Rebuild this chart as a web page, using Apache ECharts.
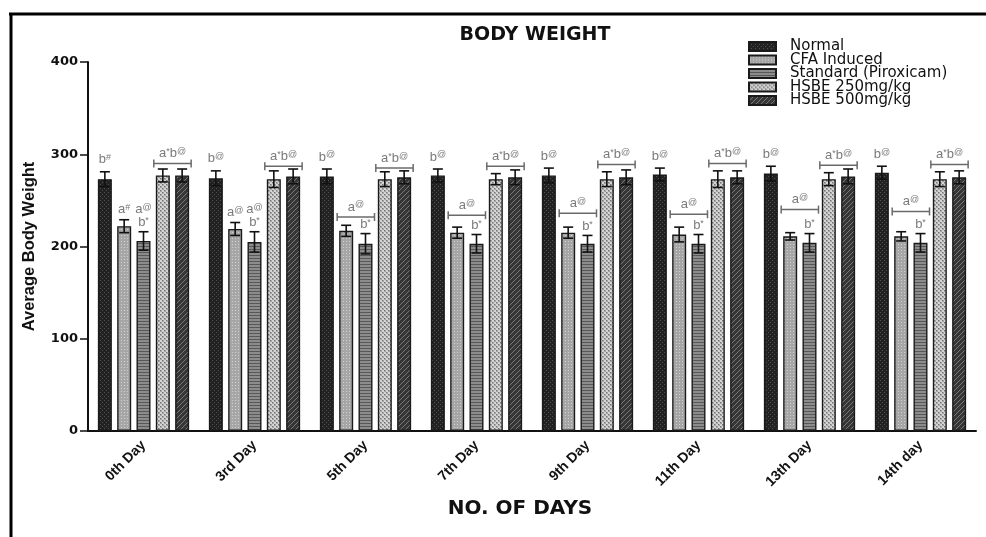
<!DOCTYPE html>
<html>
<head>
<meta charset="utf-8">
<script src="https://cdn.jsdelivr.net/npm/echarts@6/dist/echarts.min.js"></script>
<style>html,body{margin:0;padding:0;background:#fff}#c{width:986px;height:537px}</style>
</head>
<body>
<div id="c"></div>
<script>
// ---- data ----
const days = ['0th Day','3rd Day','5th Day','7th Day','9th Day','11th Day','13th Day','14th day'];
const seriesNames = ['Normal','CFA Induced','Standard (Piroxicam)','HSBE 250mg/kg','HSBE 500mg/kg'];
const normal   = [273, 274, 276, 277, 277, 278, 279, 280];
const cfa      = [222, 219, 217, 215, 215, 213, 211, 211];
const standard = [206, 205, 203, 203, 203, 203, 204, 204];
const hsbe250  = [277, 273, 273, 273, 273, 273, 273, 273];
const hsbe500  = [277, 276, 275, 275, 275, 275, 276, 275];
const normalErr   = [8, 8, 8, 7, 8, 7, 8, 7];
const cfaErr      = [7, 7, 6, 6, 6, 8, 4, 5];
const standardErr = [10, 11, 11, 10, 9, 10, 10, 10];
const hsbe250Err  = [7, 9, 8, 6, 8, 9, 7, 8];
const hsbe500Err  = [7, 8, 7, 8, 8, 7, 8, 7];
const normalMarks      = ['b#','b@','b@','b@','b@','b@','b@','b@'];
const cfaMarks         = ['a#','a@','','','','','',''];
const standardTopMarks = ['a@','a@','','','','','',''];
const standardMarks    = ['b*','b*','b*','b*','b*','b*','b*','b*'];
const cfaStdBracket    = [null, null, 232, 234, 236, 235, 240, 238];
const cfaStdMark       = 'a@';
const hsbeBracket      = [290, 287, 285, 287, 289, 290, 288, 289];
const hsbeMark         = 'a*b@';
const yTicks = [0, 100, 200, 300, 400];

const values = [normal, cfa, standard, hsbe250, hsbe500];
const errors = [normalErr, cfaErr, standardErr, hsbe250Err, hsbe500Err];

// ---- styles ----
const BAR_W = 14, GAP = 0.38, PITCH = BAR_W * (1 + GAP);
function off(i) { return (i - 2) * PITCH; }
function pat(bg, draw, w, h) {
  const c = document.createElement('canvas'); c.width = w; c.height = h;
  const x = c.getContext('2d'); x.fillStyle = bg; x.fillRect(0, 0, w, h); draw(x);
  return { image: c, repeat: 'repeat' };
}
const fills = [
  pat('#222222', x => { x.fillStyle = '#505050'; x.fillRect(0,0,1,1); x.fillRect(2,2,1,1); }, 4, 4),
  pat('#a6a6a6', x => { x.fillStyle = '#d0d0d0'; x.fillRect(1,1,1,1); }, 3, 3),
  pat('#8c8c8c', x => { x.fillStyle = '#585858'; x.fillRect(0,0,3,1); }, 3, 3),
  pat('#a4a4a4', x => { x.fillStyle = '#d4d4d4'; x.fillRect(0,0,2,2); x.fillRect(2,2,2,2); x.fillStyle='#747474'; x.fillRect(2,0,1,1); x.fillRect(0,2,1,1); }, 4, 4),
  pat('#363636', x => { x.fillStyle = '#777'; for (let k = 0; k < 5; k++) x.fillRect(k, 4 - k, 1, 1); }, 5, 5)
];
const FONT = 'Liberation Sans, Arial, Helvetica, sans-serif';
const WIDE = 'DejaVu Sans, Verdana, sans-serif';

function rich(s) {
  return s.split('').map(c => /[a-z]/.test(c) ? '{n|' + c + '}' : '{s|' + c + '}').join('');
}
const richStyles = {
  n: { fontSize: 13, fill: '#7a7a7a', lineHeight: 13, fontFamily: FONT },
  s: { fontSize: 9, fill: '#7a7a7a', lineHeight: 9, verticalAlign: 'top', fontFamily: FONT }
};

// annotations
const annotations = [];
days.forEach((d, j) => {
  annotations.push({ cat: j, type: 'text', s: 0, v: normal[j] + normalErr[j], dy: 12, t: normalMarks[j] });
  if (cfaMarks[j]) annotations.push({ cat: j, type: 'text', s: 1, v: cfa[j] + cfaErr[j], dy: 10, t: cfaMarks[j] });
  annotations.push({ cat: j, type: 'text', s: 2, v: standard[j] + standardErr[j], dy: 9, t: standardMarks[j] });
  if (standardTopMarks[j]) annotations.push({ cat: j, type: 'text', s: 2, v: standard[j] + standardErr[j], dy: 22, t: standardTopMarks[j] });
  if (cfaStdBracket[j] != null) annotations.push({ cat: j, type: 'bracket', s: 1, e: 2, v: cfaStdBracket[j], t: cfaStdMark });
  annotations.push({ cat: j, type: 'bracket', s: 3, e: 4, v: hsbeBracket[j], t: hsbeMark });
});

const barSeries = seriesNames.map((name, i) => ({
  name, type: 'bar', data: values[i], barWidth: BAR_W, barGap: (GAP * 100) + '%',
  itemStyle: { color: fills[i], borderColor: '#1a1a1a', borderWidth: 1.4 },
  z: 2
}));

const errSeries = seriesNames.map((name, i) => ({
  type: 'custom', z: 5, silent: true,
  data: days.map((d, j) => [j, values[i][j] - errors[i][j], values[i][j] + errors[i][j]]),
  encode: { x: 0, y: [1, 2] },
  renderItem: (params, api) => {
    const lo = api.coord([api.value(0), api.value(1)]);
    const hi = api.coord([api.value(0), api.value(2)]);
    const x = lo[0] + off(i);
    const st = { stroke: '#111', lineWidth: 1.6 };
    return { type: 'group', children: [
      { type: 'line', shape: { x1: x, y1: lo[1], x2: x, y2: hi[1] }, style: st },
      { type: 'line', shape: { x1: x - 5, y1: hi[1], x2: x + 5, y2: hi[1] }, style: st },
      { type: 'line', shape: { x1: x - 5, y1: lo[1], x2: x + 5, y2: lo[1] }, style: st }
    ]};
  }
}));

const annSeries = {
  type: 'custom', z: 6, silent: true,
  data: annotations.map(a => [a.cat, a.v]),
  encode: { x: 0, y: 1 },
  renderItem: (params, api) => {
    const a = annotations[params.dataIndex];
    const p = api.coord([a.cat, a.v]);
    if (a.type === 'text') {
      return { type: 'text', x: p[0] + off(a.s), y: p[1] - a.dy,
        style: { text: rich(a.t), rich: richStyles, align: 'center', verticalAlign: 'middle' } };
    }
    const x1 = p[0] + off(a.s) - 9, x2 = p[0] + off(a.e) + 9, y = p[1];
    const st = { stroke: '#6a6a6a', lineWidth: 1.5 };
    return { type: 'group', children: [
      { type: 'line', shape: { x1, y1: y, x2, y2: y }, style: st },
      { type: 'line', shape: { x1, y1: y - 4, x2: x1, y2: y + 4 }, style: st },
      { type: 'line', shape: { x1: x2, y1: y - 4, x2, y2: y + 4 }, style: st },
      { type: 'text', x: (x1 + x2) / 2, y: y - 10,
        style: { text: rich(a.t), rich: richStyles, align: 'center', verticalAlign: 'middle' } }
    ]};
  }
};

const chart = echarts.init(document.getElementById('c'), null, { renderer: 'canvas' });
chart.setOption({
  animation: false,
  backgroundColor: '#fff',
  title: { text: 'BODY WEIGHT', left: 530, top: 21, textAlign: 'center',
    textStyle: { fontFamily: WIDE, fontWeight: 'bold', fontSize: 19, color: '#111' } },
  legend: {
    data: seriesNames, orient: 'vertical', left: 743, top: 34, itemWidth: 27, itemHeight: 9, itemGap: -1.5,
    icon: 'rect',
    textStyle: { fontFamily: WIDE, fontSize: 15, color: '#111', lineHeight: 13.5, padding: [0, 0, 0, 9] }
  },
  grid: { left: 88, right: 10, top: 62, bottom: 106, containLabel: false },
  xAxis: {
    type: 'category', data: days,
    name: 'NO. OF DAYS', nameLocation: 'middle', nameGap: 68,
    nameTextStyle: { fontFamily: WIDE, fontWeight: 'bold', fontSize: 20, color: '#111', padding: [0, 24, 0, 0] },
    axisLine: { lineStyle: { color: '#111', width: 2 } },
    axisTick: { alignWithLabel: true, length: 4, lineStyle: { color: '#111', width: 1.5 } },
    axisLabel: { rotate: 45, fontFamily: FONT, fontWeight: 'bold', fontSize: 14, color: '#111', margin: 12 }
  },
  yAxis: {
    type: 'value', min: yTicks[0], max: yTicks[yTicks.length - 1], interval: 100,
    name: 'Average Body Weight', nameLocation: 'middle', nameGap: 50,
    nameTextStyle: { fontFamily: FONT, fontWeight: 'bold', fontSize: 16.5, color: '#111' },
    axisLine: { show: true, lineStyle: { color: '#111', width: 2 } },
    axisTick: { show: true, length: 8, lineStyle: { color: '#111', width: 1.5 } },
    axisLabel: { fontFamily: WIDE, fontWeight: 'bold', fontSize: 13, color: '#111', margin: 10 },
    splitLine: { show: false }
  },
  graphic: [
    { type: 'line', shape: { x1: 9, y1: 14, x2: 986, y2: 14 }, style: { stroke: '#000', lineWidth: 3 } },
    { type: 'line', shape: { x1: 11, y1: 13, x2: 11, y2: 537 }, style: { stroke: '#000', lineWidth: 3 } }
  ],
  series: [...barSeries, ...errSeries, annSeries]
});
</script>
</body>
</html>
